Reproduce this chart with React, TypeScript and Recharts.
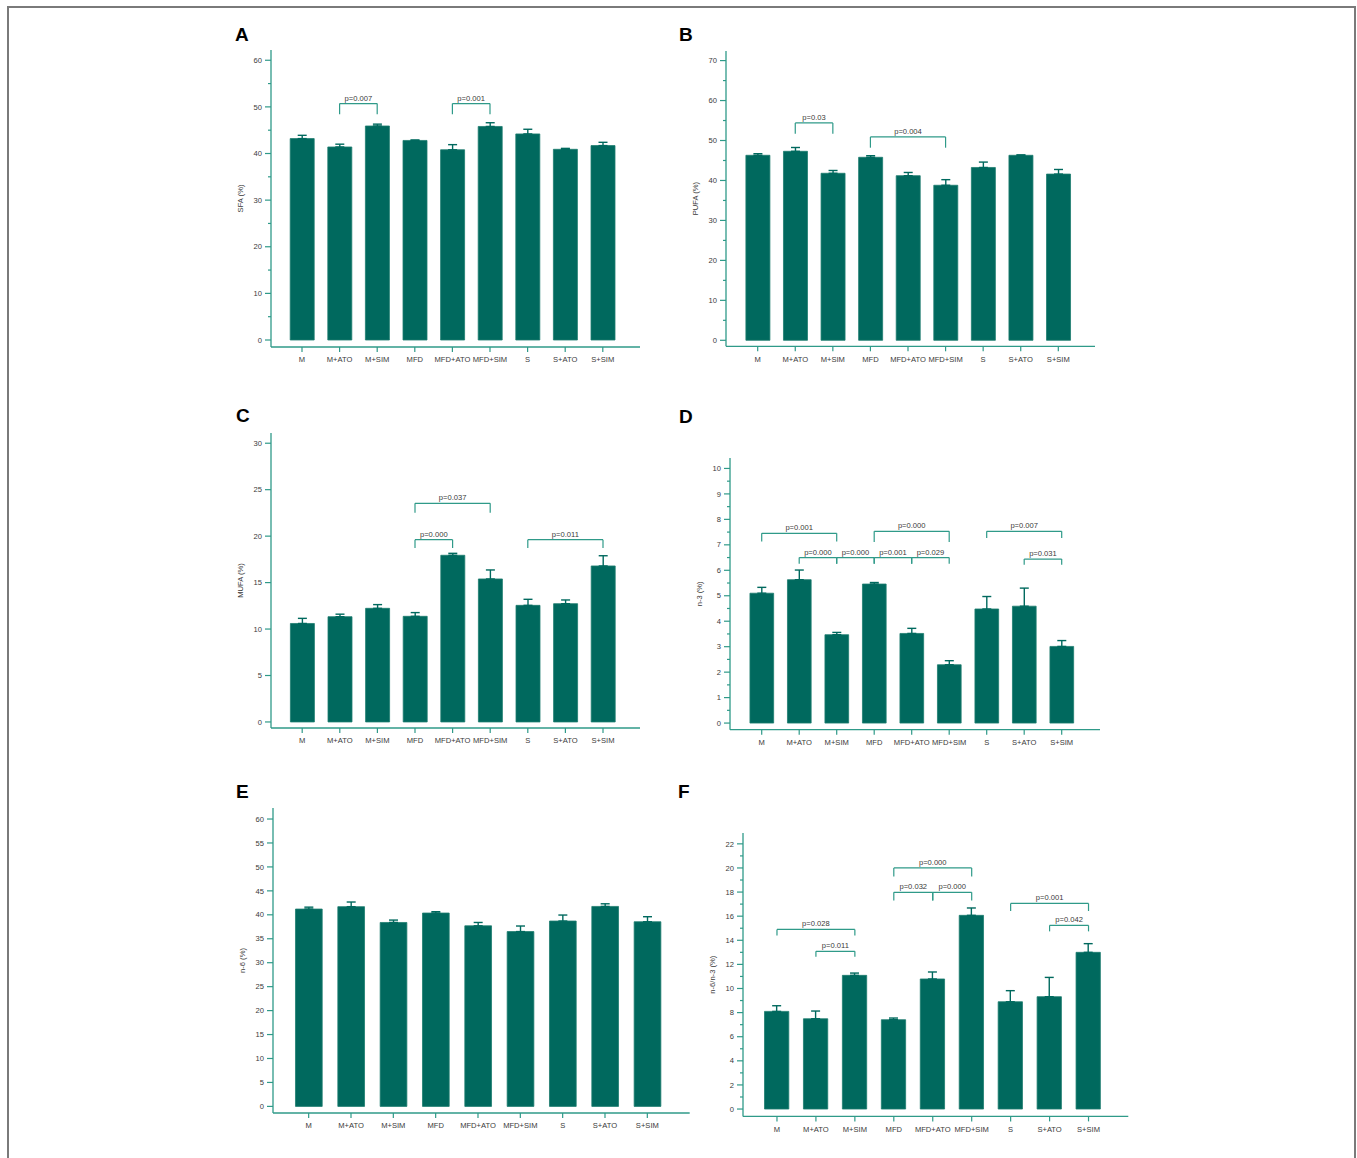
import { BarChart, Bar, XAxis, YAxis, ErrorBar, ReferenceLine } from 'recharts'

const groups = ['M', 'M+ATO', 'M+SIM', 'MFD', 'MFD+ATO', 'MFD+SIM', 'S', 'S+ATO', 'S+SIM']

// A – SFA
const sfaMean = [43.2, 41.4, 45.9, 42.8, 40.8, 45.8, 44.2, 40.9, 41.7]
const sfaErr = [0.7, 0.6, 0.4, 0.1, 1.1, 0.8, 1.0, 0.2, 0.7]
const sfaTicks = [0, 5, 10, 15, 20, 25, 30, 35, 40, 45, 50, 55, 60]

// B – PUFA
const pufaMean = [46.3, 47.3, 41.8, 45.8, 41.2, 38.8, 43.25, 46.3, 41.6]
const pufaErr = [0.4, 0.95, 0.7, 0.4, 0.8, 1.4, 1.35, 0.1, 1.15]
const pufaTicks = [0, 5, 10, 15, 20, 25, 30, 35, 40, 45, 50, 55, 60, 65, 70]

// C – MUFA
const mufaMean = [10.6, 11.33, 12.23, 11.37, 17.94, 15.39, 12.55, 12.73, 16.79]
const mufaErr = [0.55, 0.27, 0.4, 0.4, 0.21, 0.97, 0.65, 0.4, 1.1]
const mufaTicks = [0, 5, 10, 15, 20, 25, 30]

// D – n-3
const n3Mean = [5.1, 5.63, 3.47, 5.46, 3.52, 2.29, 4.48, 4.59, 3.01]
const n3Err = [0.23, 0.38, 0.09, 0.06, 0.2, 0.16, 0.49, 0.71, 0.23]
const n3Ticks = [0, 0.5, 1, 1.5, 2, 2.5, 3, 3.5, 4, 4.5, 5, 5.5, 6, 6.5, 7, 7.5, 8, 8.5, 9, 9.5, 10]

// E – n-6
const n6Mean = [41.2, 41.7, 38.4, 40.37, 37.7, 36.5, 38.7, 41.75, 38.55]
const n6Err = [0.4, 0.97, 0.5, 0.28, 0.7, 1.16, 1.25, 0.55, 1.05]
const n6Ticks = [0, 5, 10, 15, 20, 25, 30, 35, 40, 45, 50, 55, 60]

// F – n-6/n-3
const ratioMean = [8.1, 7.49, 11.09, 7.41, 10.79, 16.07, 8.9, 9.32, 13.0]
const ratioErr = [0.47, 0.64, 0.19, 0.14, 0.58, 0.61, 0.92, 1.6, 0.72]
const ratioTicks = [0, 1, 2, 3, 4, 5, 6, 7, 8, 9, 10, 11, 12, 13, 14, 15, 16, 17, 18, 19, 20, 21, 22]

// brackets: [from, to, height, leg drop, label]
type Bracket = [string, string, number, number, string]
const sfaBrackets: Bracket[] = [
  ['M+ATO', 'M+SIM', 50.7, 2.3, 'p=0.007'],
  ['MFD+ATO', 'MFD+SIM', 50.7, 2.3, 'p=0.001'],
]
const pufaBrackets: Bracket[] = [
  ['M+ATO', 'M+SIM', 54.4, 2.7, 'p=0.03'],
  ['MFD', 'MFD+SIM', 50.9, 2.7, 'p=0.004'],
]
const mufaBrackets: Bracket[] = [
  ['MFD', 'MFD+SIM', 23.53, 1.0, 'p=0.037'],
  ['MFD', 'MFD+ATO', 19.62, 0.9, 'p=0.000'],
  ['S', 'S+SIM', 19.62, 0.9, 'p=0.011'],
]
const n3Brackets: Bracket[] = [
  ['M', 'M+SIM', 7.45, 0.32, 'p=0.001'],
  ['M+ATO', 'M+SIM', 6.5, 0.24, 'p=0.000'],
  ['M+SIM', 'MFD', 6.5, 0.24, 'p=0.000'],
  ['MFD', 'MFD+SIM', 7.53, 0.42, 'p=0.000'],
  ['MFD', 'MFD+ATO', 6.5, 0.24, 'p=0.001'],
  ['MFD+ATO', 'MFD+SIM', 6.5, 0.24, 'p=0.029'],
  ['S', 'S+SIM', 7.53, 0.26, 'p=0.007'],
  ['S+ATO', 'S+SIM', 6.44, 0.22, 'p=0.031'],
]
const ratioBrackets: Bracket[] = [
  ['M', 'M+SIM', 14.9, 0.5, 'p=0.028'],
  ['M+ATO', 'M+SIM', 13.08, 0.44, 'p=0.011'],
  ['MFD', 'MFD+SIM', 20.0, 0.7, 'p=0.000'],
  ['MFD', 'MFD+ATO', 17.98, 0.67, 'p=0.032'],
  ['MFD+ATO', 'MFD+SIM', 17.98, 0.67, 'p=0.000'],
  ['S', 'S+SIM', 17.06, 0.63, 'p=0.001'],
  ['S+ATO', 'S+SIM', 15.24, 0.5, 'p=0.042'],
]

const BAR = '#00695e'
const BAR_EDGE = '#1d7c6f'
const AXIS = '#2f9a89'
const TEXT = '#3a3a3a'
const FONT = 'Arial, "Liberation Sans", sans-serif'
const FS = 7.6

interface PanelCfg {
  letter: string
  letterPos: [number, number]
  yLabel: string
  mean: number[]
  err: number[]
  ticks: number[]
  major: number
  brackets: Bracket[]
  axisX: number
  right: number
  top: number
  bottom: number
  domain: [number, number]
  padL: number
  padR: number
  barSize: number
}

const panels: PanelCfg[] = [
  { letter: 'A', letterPos: [235, 25], yLabel: 'SFA (%)', mean: sfaMean, err: sfaErr, ticks: sfaTicks, major: 10, brackets: sfaBrackets,
    axisX: 271, right: 640, top: 50, bottom: 347, domain: [-1.5, 62.2], padL: 12.2, padR: 18.4, barSize: 24 },
  { letter: 'B', letterPos: [679, 25], yLabel: 'PUFA (%)', mean: pufaMean, err: pufaErr, ticks: pufaTicks, major: 10, brackets: pufaBrackets,
    axisX: 726, right: 1095, top: 50.7, bottom: 346, domain: [-1.5, 72.4], padL: 12.9, padR: 17.9, barSize: 24 },
  { letter: 'C', letterPos: [236, 406], yLabel: 'MUFA (%)', mean: mufaMean, err: mufaErr, ticks: mufaTicks, major: 5, brackets: mufaBrackets,
    axisX: 271, right: 640, top: 433.3, bottom: 728.3, domain: [-0.65, 31.1], padL: 12.4, padR: 18.2, barSize: 24 },
  { letter: 'D', letterPos: [679, 407], yLabel: 'n-3 (%)', mean: n3Mean, err: n3Err, ticks: n3Ticks, major: 1, brackets: n3Brackets,
    axisX: 730, right: 1100, top: 458.3, bottom: 730, domain: [-0.26, 10.41], padL: 12.95, padR: 19.55, barSize: 23.7 },
  { letter: 'E', letterPos: [236, 782], yLabel: 'n-6 (%)', mean: n6Mean, err: n6Err, ticks: n6Ticks, major: 5, brackets: [],
    axisX: 273.3, right: 690, top: 808.3, bottom: 1113.3, domain: [-1.38, 62.3], padL: 14.5, padR: 21.2, barSize: 26.7 },
  { letter: 'F', letterPos: [678, 782], yLabel: 'n-6/n-3 (%)', mean: ratioMean, err: ratioErr, ticks: ratioTicks, major: 2, brackets: ratioBrackets,
    axisX: 742.7, right: 1128, top: 833.3, bottom: 1116.7, domain: [-0.61, 22.9], padL: 14.5, padR: 20.3, barSize: 24.3 },
]

function YTick(props: any) {
  const { x, y, payload, major } = props
  const ax = x + 9
  const v = payload.value
  const isMajor = Math.abs(v / major - Math.round(v / major)) < 1e-6
  return (
    <g>
      <line x1={ax - (isMajor ? 6 : 3)} y1={y} x2={ax} y2={y} stroke={AXIS} strokeWidth={1.2} />
      {isMajor && (
        <text x={ax - 9} y={y} dy="0.35em" textAnchor="end" fontSize={FS} fill={TEXT} fontFamily={FONT}>
          {v}
        </text>
      )}
    </g>
  )
}

function Panel({ cfg }: { cfg: PanelCfg }) {
  const rows = groups.map((g, i) => ({ name: g, value: cfg.mean[i], err: [0, cfg.err[i]] }))
  const yw = 50
  const width = yw + (cfg.right - cfg.axisX) + 10
  const height = 10 + (cfg.bottom - cfg.top) + 30
  const lineStyle = { stroke: AXIS, strokeWidth: 1.2 }
  return (
    <div style={{ position: 'absolute', left: cfg.axisX - yw, top: cfg.top - 10 }}>
      <BarChart width={width} height={height} data={rows} margin={{ top: 10, right: 10, bottom: 0, left: 0 }} barSize={cfg.barSize}>
        <XAxis
          dataKey="name"
          height={30}
          interval={0}
          padding={{ left: cfg.padL, right: cfg.padR }}
          axisLine={{ stroke: AXIS, strokeWidth: 1.3 }}
          tickLine={{ stroke: AXIS, strokeWidth: 1.2 }}
          tickSize={5}
          tickMargin={5}
          tick={{ fontSize: FS, fill: TEXT, fontFamily: FONT }}
        />
        <YAxis
          width={yw}
          type="number"
          domain={cfg.domain}
          ticks={cfg.ticks}
          interval={0}
          allowDataOverflow
          tickLine={false}
          tickSize={6}
          tickMargin={3}
          axisLine={{ stroke: AXIS, strokeWidth: 1.3 }}
          tick={(p: any) => <YTick {...p} major={cfg.major} />}
          label={{
            content: (p: any) => {
              const vb = p.viewBox || {}
              const cx = vb.x + vb.width - 31
              const cy = vb.y + vb.height / 2
              return (
                <text x={cx} y={cy} transform={`rotate(-90 ${cx} ${cy})`} textAnchor="middle" dy="0.35em" fontSize={FS} fill={TEXT} fontFamily={FONT}>
                  {cfg.yLabel}
                </text>
              )
            },
          }}
        />
        <Bar dataKey="value" fill={BAR} stroke={BAR_EDGE} strokeWidth={0.8} isAnimationActive={false}>
          <ErrorBar dataKey="err" width={4.5} stroke={BAR} strokeWidth={1.4} direction="y" isAnimationActive={false} />
        </Bar>
        {cfg.brackets.map(([a, b, h, d, txt], i) => [
          <ReferenceLine
            key={`h${i}`}
            segment={[{ x: a, y: h }, { x: b, y: h }]}
            {...lineStyle}
            label={{ value: txt, position: 'top', offset: 3, fontSize: FS, fill: TEXT, fontFamily: FONT }}
          />,
          <ReferenceLine key={`l${i}`} segment={[{ x: a, y: h }, { x: a, y: h - d }]} {...lineStyle} />,
          <ReferenceLine key={`r${i}`} segment={[{ x: b, y: h }, { x: b, y: h - d }]} {...lineStyle} />,
        ])}
      </BarChart>
    </div>
  )
}

export default function App() {
  return (
    <div style={{ position: 'absolute', left: 0, top: 0, width: 1357, height: 1158, overflow: 'hidden', background: '#fff', fontFamily: FONT }}>
      <div
        style={{
          position: 'absolute',
          left: 7,
          top: 6,
          width: 1345,
          height: 1160,
          borderLeft: '2px solid #7a7a7a',
          borderTop: '2px solid #7a7a7a',
          borderRight: '2px solid #7a7a7a',
        }}
      />
      {panels.map((p) => (
        <div key={p.letter}>
          <div style={{ position: 'absolute', left: p.letterPos[0], top: p.letterPos[1], fontSize: 19, lineHeight: '19px', fontWeight: 700, color: '#000' }}>
            {p.letter}
          </div>
          <Panel cfg={p} />
        </div>
      ))}
    </div>
  )
}
